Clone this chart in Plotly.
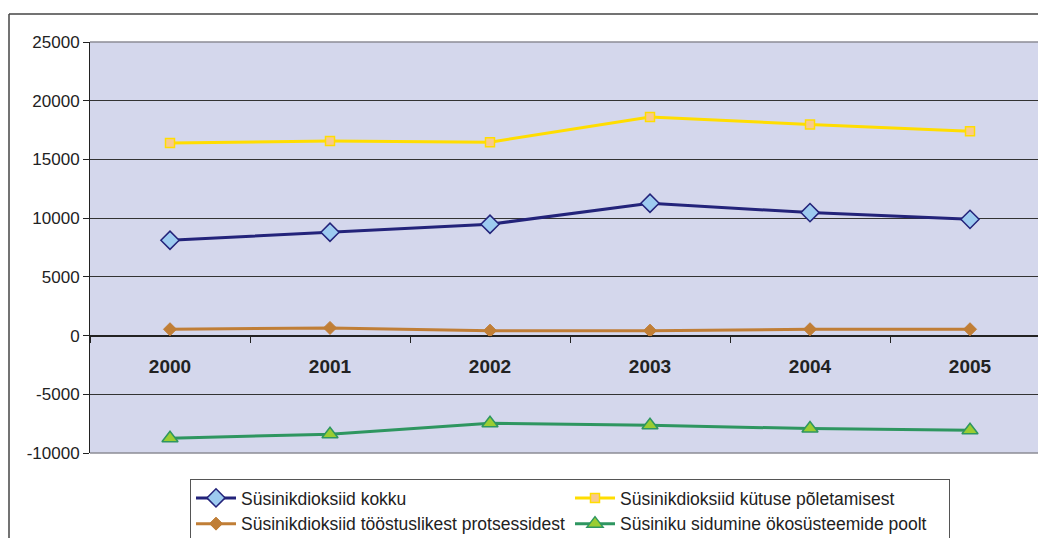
import plotly.graph_objects as go

years = ["2000", "2001", "2002", "2003", "2004", "2005"]
kokku = [8120, 8800, 9480, 11270, 10470, 9900]
kytuse = [16390, 16560, 16470, 18620, 17970, 17400]
toostus = [540, 650, 420, 420, 540, 540]
sidumine = [-8740, -8400, -7470, -7640, -7920, -8060]

names = [
    "Süsinikdioksiid kokku",
    "Süsinikdioksiid kütuse põletamisest",
    "Süsinikdioksiid tööstuslikest protsessidest",
    "Süsiniku sidumine ökosüsteemide poolt",
]

y_ticks = [-10000, -5000, 0, 5000, 10000, 15000, 20000, 25000]
y_tick_labels = ["-10000", "-5000", "0", "5000", "10000", "15000", "20000", "25000"]

y_min, y_max = -10000, 25000
FONT = "Arial, Liberation Sans, sans-serif"

# page body has an 8px margin; figure is sized to fit the 1046x538 window
W, H = 1038, 530
OFF = 8

fig = go.Figure()
fig.add_trace(go.Scatter(
    x=years, y=kokku, name=names[0], mode="lines+markers",
    line=dict(color="#23237A", width=3),
    marker=dict(symbol="diamond", size=14, color="#9DCBF0", line=dict(color="#23237A", width=1.5)),
))
fig.add_trace(go.Scatter(
    x=years, y=kytuse, name=names[1], mode="lines+markers",
    line=dict(color="#FFDD00", width=3),
    marker=dict(symbol="square", size=9, color="#F9C98E", line=dict(color="#FFDD00", width=1.5)),
))
fig.add_trace(go.Scatter(
    x=years, y=toostus, name=names[2], mode="lines+markers",
    line=dict(color="#C07E36", width=3),
    marker=dict(symbol="diamond", size=10, color="#C07E36", line=dict(color="#C07E36", width=1)),
))
fig.add_trace(go.Scatter(
    x=years, y=sidumine, name=names[3], mode="lines+markers",
    line=dict(color="#2E9660", width=3),
    marker=dict(symbol="triangle-up", size=14, color="#9ACD32", line=dict(color="#2E9660", width=1.5)),
))

plot_left, plot_top, plot_bottom = 90 - OFF, 42 - OFF, 453 - OFF
plot_h = plot_bottom - plot_top
plot_w = W - plot_left

fig.update_layout(
    width=W, height=H,
    margin=dict(l=plot_left, r=0, t=plot_top, b=H - plot_bottom, autoexpand=False),
    paper_bgcolor="white",
    plot_bgcolor="#D4D7EC",
    font=dict(family=FONT, color="#222222"),
    xaxis=dict(
        type="category", categoryorder="array", categoryarray=years,
        range=[-0.5, 5.475], automargin=False,
        anchor="free", position=(0 - y_min) / (y_max - y_min),
        showline=True, linecolor="#222222", linewidth=1,
        ticks="outside", tickson="boundaries", ticklen=6, tickcolor="#222222",
        ticklabelstandoff=14,
        tickfont=dict(family=FONT, size=19, color="#222222", weight="bold"),
        showgrid=False, zeroline=False,
    ),
    yaxis=dict(
        range=[y_min, y_max], automargin=False,
        tickmode="array", tickvals=y_ticks, ticktext=y_tick_labels,
        showline=True, linecolor="#222222", linewidth=1,
        ticks="outside", ticklen=6, tickcolor="#222222",
        tickfont=dict(family=FONT, size=17, color="#222222"),
        showgrid=True, gridcolor="#333333", gridwidth=1,
        zeroline=True, zerolinecolor="#222222", zerolinewidth=1,
    ),
    legend=dict(
        orientation="h",
        xref="container", yref="container",
        x=(190 - OFF) / W, y=1 - (479 - OFF) / H, xanchor="left", yanchor="top",
        bgcolor="white", bordercolor="#555555", borderwidth=1,
        font=dict(family=FONT, size=17.5, color="#222222"),
        entrywidth=324, entrywidthmode="pixels",
        itemwidth=40, tracegroupgap=0,
    ),
    showlegend=True,
)

# outer chart border (left and top edges visible)
bx = (9 - 90) / plot_w
by = (453 - 14) / plot_h
fig.add_shape(type="line", xref="paper", yref="paper",
              x0=bx, x1=1.2, y0=by, y1=by,
              line=dict(color="#444444", width=1.5))
fig.add_shape(type="line", xref="paper", yref="paper",
              x0=bx, x1=bx, y0=by, y1=-0.5,
              line=dict(color="#444444", width=1.5))
# gray top/bottom edges of the plot area
for yy in (0, 1):
    fig.add_shape(type="line", xref="paper", yref="paper", layer="above",
                  x0=0, x1=1, y0=yy, y1=yy,
                  line=dict(color="#8C8C96", width=1.5))

fig.write_html("out.html")
